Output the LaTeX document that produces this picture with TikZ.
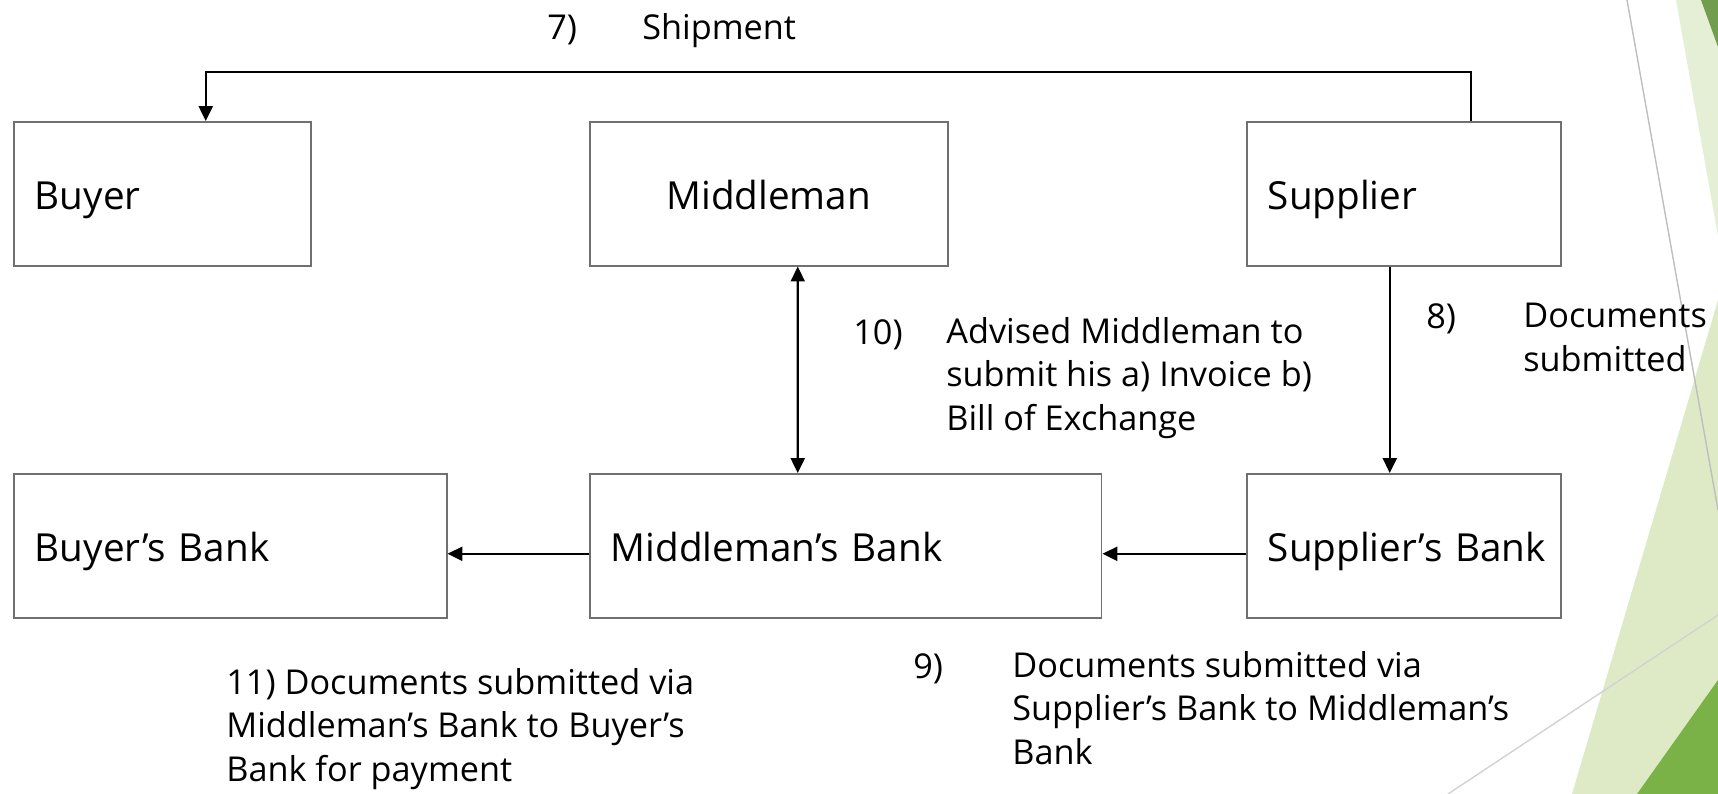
\documentclass[tikz,border=0pt]{standalone}
\usepackage{fontspec}
\setmainfont{Open Sans}
\usepackage{tikz}
\usetikzlibrary{arrows.meta,calc}

\definecolor{boxgray}{RGB}{112,112,112}
\definecolor{facetpale}{RGB}{229,239,214}
\definecolor{facetlight}{RGB}{221,234,197}
\definecolor{facetdark}{RGB}{113,158,78}
\definecolor{facetgreen}{RGB}{122,178,72}
\definecolor{facetline}{RGB}{190,190,190}

\tikzset{
  party/.style={draw=boxgray, line width=0.9pt, rectangle, anchor=north west, minimum height=2.88cm,
    inner xsep=0.42cm, inner ysep=0pt, align=left, text height=18pt, text depth=0pt,
    font=\fontsize{22}{26}\selectfont},
  note/.style={anchor=base west, inner sep=0pt, align=left, font=\fontsize{19.5}{24.5}\selectfont},
  link/.style={line width=1.2pt}
}

\begin{document}
\begin{tikzpicture}[x=0.02cm,y=-0.02cm,>={Triangle[length=8.5pt,width=8pt]}]
  \useasboundingbox (0,0) rectangle (1718,794);
  % facet corner
  \fill[facetpale] (1676,0) -- (1718,0) -- (1718,236) -- cycle;
  \fill[facetdark] (1701,0) -- (1718,0) -- (1718,47) -- cycle;
  \fill[facetlight] (1718,300) -- (1572,794) -- (1718,794) -- cycle;
  \fill[facetgreen] (1718,680) -- (1637,794) -- (1718,794) -- cycle;
  \draw[facetline, line width=0.8pt] (1627,0) -- (1718,510);
  \draw[facetline!70, line width=0.8pt] (1448,794) -- (1718,615);

  \node[party, text width=5.10cm] (buyer) at (13,121) {Buyer};
  \node[party, text width=6.32cm, align=center] (mid) at (589,121) {Middleman};
  \node[party, text width=5.44cm] (sup) at (1246,121) {Supplier};
  \node[party, text width=7.82cm] (bbank) at (13,473) {Buyer’s Bank};
  \node[party, text width=9.40cm] (mbank) at (589,473) {Middleman’s Bank};
  \node[party, text width=5.44cm] (sbank) at (1246,473) {\mbox{Supplier’s Bank}};

  \draw[link,->] ([xshift=1.34cm]sup.north) -- ++(0,-49) -| ([xshift=0.87cm]buyer.north);
  \draw[link,<->] ([xshift=0.58cm]mid.south) -- ([xshift=-0.96cm]mbank.north);
  \draw[link,->] ([xshift=-0.28cm]sup.south) -- ([xshift=-0.28cm]sbank.north);
  \draw[link,->] ([yshift=-0.16cm]sbank.west) -- ([yshift=-0.16cm]mbank.east);
  \draw[link,->] ([yshift=-0.16cm]mbank.west) -- ([yshift=-0.16cm]bbank.east);

  % step labels (base = last line)
  \node[note] (n7) at (547,40) {7)};
  \node[note] (n7t) at (642,40) {Shipment};
  \node[note] (n10) at (853,344) {10)};
  \node[note] (n10t) at (946,430) {Advised Middleman to\\submit his a) Invoice b)\\Bill of Exchange};
  \node[note] (n8) at (1426,328) {8)};
  \node[note] (n8t) at (1523,371) {Documents\\submitted};
  \node[note] (n11) at (226,781) {11) Documents submitted via\\Middleman’s Bank to Buyer’s\\Bank for payment};
  \node[note] (n9) at (913,678) {9)};
  \node[note] (n9t) at (1012,764) {Documents submitted via\\Supplier’s Bank to Middleman’s\\Bank};
\end{tikzpicture}
\end{document}
